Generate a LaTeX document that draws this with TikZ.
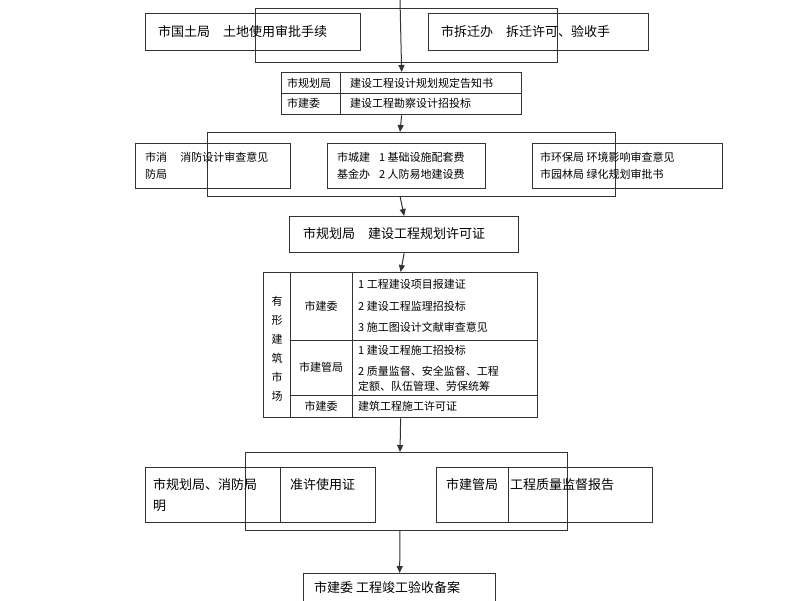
\documentclass[tikz,border=0pt]{standalone}
\usepackage{fontspec}
\setmainfont{Noto Sans CJK SC}
\usetikzlibrary{arrows.meta}
\begin{document}
\begin{tikzpicture}[x=1pt,y=-1pt,
 bx/.style={draw=black!80,line width=1.3pt},
 ln/.style={draw=black!80,line width=1pt},
 ar/.style={ln,-{Triangle[length=7pt,width=6pt]}},
 big/.style={font=\fontsize{13}{15}\selectfont,anchor=west,inner sep=0},
 sm/.style={font=\fontsize{11}{13}\selectfont,anchor=west,inner sep=0}]
\useasboundingbox[fill=white] (0,0) rectangle (800,600);
% top bracket
\coordinate (t0) at (400,0);
\draw[ln] (255,8) -- (557,8) (255,8) -- (255,62) -- (557,62) -- (557,8);
\node[bx,minimum width=215,minimum height=37,anchor=north west,inner sep=0] (b1) at (145,13) {};
\node[big] at (158,31.5) {市国土局\hspace{1em}土地使用审批手续};
\node[bx,minimum width=220,minimum height=37,anchor=north west,inner sep=0] (b2) at (428,13) {};
\node[big] at (441,31.5) {市拆迁办\hspace{1em}拆迁许可、验收手};
% box3
\node[bx,minimum width=240,minimum height=42,anchor=north west,inner sep=0] (b3) at (281,72) {};
\draw[ln] (340,72) -- (340,114) (281,93) -- (521,93);
\node[sm] at (287,83) {市规划局};
\node[sm] at (287,103) {市建委};
\node[sm] at (350,83) {建设工程设计规划规定告知书};
\node[sm] at (350,103) {建设工程勘察设计招投标};
\draw[ar] (t0) -- (b3.north);
% bracket2
\draw[ln] (207,132) -- (615,132) (207,132) -- (207,196) -- (615,196) -- (615,132);
\coordinate (c2) at (400,132);
\draw[ar] (b3.south) -- (c2);
\node[bx,minimum width=155,minimum height=45,anchor=north west,inner sep=0] (ba) at (135,143) {};
\node[sm] at (145,157) {市消\hspace{1.2em}消防设计审查意见};
\node[sm] at (145,174) {防局};
\node[bx,minimum width=158,minimum height=45,anchor=north west,inner sep=0] (bb) at (327,143) {};
\node[sm] at (337,157) {市城建\hspace{0.8em}1 基础设施配套费};
\node[sm] at (337,174) {基金办\hspace{0.8em}2 人防易地建设费};
\node[bx,minimum width=190,minimum height=45,anchor=north west,inner sep=0] (bc) at (532,143) {};
\node[sm] at (540,157) {市环保局 环境影响审查意见};
\node[sm] at (540,174) {市园林局 绿化规划审批书};
% box4
\coordinate (c3) at (400,196);
\node[bx,minimum width=229,minimum height=36,anchor=north west,inner sep=0] (b4) at (289,216) {};
\node[big] at (303,234) {市规划局\hspace{1em}建设工程规划许可证};
\draw[ar] (c3) -- (b4.north);
% table
\node[bx,minimum width=274,minimum height=145,anchor=north west,inner sep=0] (tb) at (263,272) {};
\draw[ar] (b4.south) -- (tb.north);
\draw[ln] (290,272) -- (290,417) (352,272) -- (352,417) (290,340) -- (537,340) (290,395) -- (537,395);
\foreach \c [count=\i] in {有,形,建,筑,市,场}
  \node[sm,anchor=center] at (277,301+\i*19-19) {\c};
\node[sm,anchor=center] at (321,306) {市建委};
\node[sm,anchor=center] at (321,367) {市建管局};
\node[sm,anchor=center] at (321,406) {市建委};
\node[sm] at (358,284) {1 工程建设项目报建证};
\node[sm] at (358,306) {2 建设工程监理招投标};
\node[sm] at (358,327) {3 施工图设计文献审查意见};
\node[sm] at (358,350) {1 建设工程施工招投标};
\node[sm] at (358,371) {2 质量监督、安全监督、工程};
\node[sm] at (358,386) {定额、队伍管理、劳保统筹};
\node[sm] at (358,406) {建筑工程施工许可证};
% bracket3
\draw[ln] (245,452) -- (567,452) (245,452) -- (245,530) -- (567,530) -- (567,452);
\coordinate (c4) at (400,452);
\draw[ar] (tb.south) -- (c4);
\node[bx,minimum width=230,minimum height=55,anchor=north west,inner sep=0] (bl) at (145,467) {};
\draw[ln] (280,467) -- (280,522);
\node[big] at (153,485) {市规划局、消防局};
\node[big] at (153,506) {明};
\node[big] at (290,485) {准许使用证};
\node[bx,minimum width=216,minimum height=55,anchor=north west,inner sep=0] (br) at (436,467) {};
\draw[ln] (508,467) -- (508,522);
\node[big] at (446,485) {市建管局};
\node[big] at (510,485) {工程质量监督报告};
% final
\coordinate (c5) at (400,530);
\node[bx,minimum width=192,minimum height=40,anchor=north west,inner sep=0] (bf) at (303,573) {};
\node[big] at (314,588) {市建委 工程竣工验收备案};
\draw[ar] (c5) -- (bf.north);
\end{tikzpicture}
\end{document}
